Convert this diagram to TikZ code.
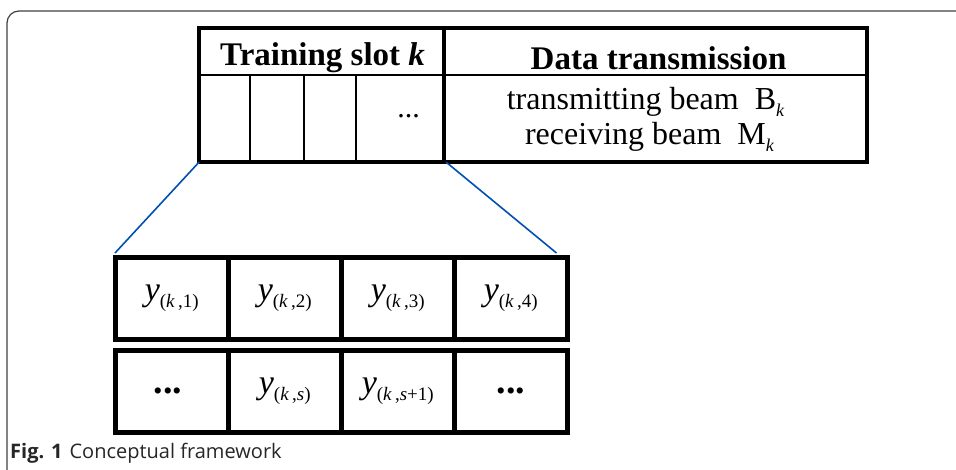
\documentclass[tikz,border=0pt]{standalone}
\usepackage{fontspec}
\setmainfont{Liberation Serif}
\newfontfamily\capfont{Open Sans}
\usetikzlibrary{calc}
% symbol with a lowered index, set as in the source figure
\newcommand{\idx}[2]{#1\raisebox{-7pt}{\fontsize{19}{20}\selectfont #2}}
\newcommand{\bidx}[2]{#1\raisebox{-7pt}{\fontsize{18}{20}\selectfont #2}}
\begin{document}
\begin{tikzpicture}[x=1pt,y=-1pt,
  cell/.style={draw=black, line width=2.2pt, inner sep=0pt, anchor=north west},
  ycell/.style={draw=black, line width=4.5pt, inner sep=0pt, anchor=north west,
    minimum width=113pt, minimum height=82pt, font=\fontsize{34}{36}\selectfont},
  heavy/.style={draw=black, line width=4pt},
  zoomline/.style={draw=blue!55!cyan!70!black, line width=1.6pt},
  frameline/.style={draw=black!75, line width=1.2pt},
]
\useasboundingbox (0,0) rectangle (956,469);

% outer frame of the figure
\draw[frameline, rounded corners=12pt] (7,470) -- (7,11) -- (957,11);

% frame structure: training slot and data transmission
\node[cell, minimum width=245pt, minimum height=46pt] (trainhead) at (199,28) {};
\node[cell, minimum width=421pt, minimum height=46pt] (datahead) at (444,28) {};
\node[cell, minimum width=50pt, minimum height=86pt] (t1) at (199,74) {};
\node[cell, minimum width=54pt, minimum height=86pt] (t2) at (249,74) {};
\node[cell, minimum width=52pt, minimum height=86pt] (t3) at (303,74) {};
\node[cell, minimum width=89pt, minimum height=86pt] (t4) at (355,74) {};
\node[cell, minimum width=421pt, minimum height=86pt] (databody) at (444,74) {};
\draw[heavy] (trainhead.north west) rectangle (databody.south east);
\draw[heavy] (datahead.north west) -- (databody.south west);

\node[font=\fontsize{33}{34}\selectfont\bfseries] at ($(trainhead.center)+(0,6)$) {Training slot \textit{k}};
\node[font=\fontsize{33}{34}\selectfont\bfseries] at ($(datahead.center)+(3,6)$) {Data transmission};
\node[font=\fontsize{30}{30}\selectfont] at ($(t4.center)+(8,-2)$) {...};
\node[font=\fontsize{32}{35}\selectfont, align=center] at ($(databody.center)+(-10,1)$)
  {transmitting beam~~\bidx{B}{\textit{k}}\\
   \hspace*{8pt}receiving beam~~\bidx{M}{\textit{k}}};

% expanded training slot: received samples
\node[ycell] (a1) at (113,255) {\idx{\textit{y}}{(\textit{k}\,,1)}};
\node[ycell] (a2) at (226,255) {\idx{\textit{y}}{(\textit{k}\,,2)}};
\node[ycell] (a3) at (339,255) {\idx{\textit{y}}{(\textit{k}\,,3)}};
\node[ycell] (a4) at (452,255) {\idx{\textit{y}}{(\textit{k}\,,4)}};
\node[ycell] (b1) at (113,348) {\fontsize{38}{38}\selectfont\textbf{...}\hspace*{8pt}};
\node[ycell] (b2) at (226,348) {\idx{\textit{y}}{(\textit{k}\,,\textit{s})}};
\node[ycell] (b3) at (339,348) {\idx{\textit{y}}{(\textit{k}\,,\textit{s}+1)}};
\node[ycell] (b4) at (452,348) {\fontsize{38}{38}\selectfont\textbf{...}};

% zoom lines from the training slot to the sample rows
\coordinate (zr) at ($(a4.north east)+(-13,-2)$);
\coordinate (zl) at ($(a1.north west)+(2,-2)$);
\draw[zoomline] (t1.south west) -- (zl);
\draw[zoomline] (t4.south east) -- (zr);

% caption
\node[anchor=west, inner sep=0pt, text=black!85, font=\capfont\fontsize{20}{22}\selectfont] (cap) at (10,453)
  {\textbf{Fig. 1}\hspace{7pt}Conceptual framework};
\end{tikzpicture}
\end{document}
